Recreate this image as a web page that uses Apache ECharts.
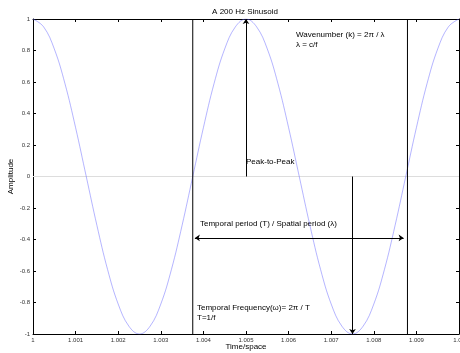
<!DOCTYPE html>
<html>
<head>
<meta charset="utf-8">
<script src="https://cdn.jsdelivr.net/npm/echarts@6/dist/echarts.min.js"></script>
<style>
  html, body { margin: 0; padding: 0; background: #fff; }
  #chart { width: 460px; height: 353px; }
</style>
</head>
<body>
<div id="chart"></div>
<script>
// every 0.00025 s
var timeVals = [1, 1.00025, 1.0005, 1.00075, 1.001, 1.00125, 1.0015, 1.00175, 1.002, 1.00225,
  1.0025, 1.00275, 1.003, 1.00325, 1.0035, 1.00375, 1.004, 1.00425, 1.0045, 1.00475,
  1.005, 1.00525, 1.0055, 1.00575, 1.006, 1.00625, 1.0065, 1.00675, 1.007, 1.00725,
  1.0075, 1.00775, 1.008, 1.00825, 1.0085, 1.00875, 1.009, 1.00925, 1.0095, 1.00975, 1.01];
var ampVals = [1, 0.95, 0.81, 0.59, 0.31, 0, -0.31, -0.59, -0.81, -0.95,
  -1, -0.95, -0.81, -0.59, -0.31, 0, 0.31, 0.59, 0.81, 0.95,
  1, 0.95, 0.81, 0.59, 0.31, 0, -0.31, -0.59, -0.81, -0.95,
  -1, -0.95, -0.81, -0.59, -0.31, 0, 0.31, 0.59, 0.81, 0.95, 1];

var xRange = [1, 1.01];
var yRange = [-1, 1];
var periodLines = [1.00375, 1.00879];
var periodArrow = { from: 1.0038, to: 1.0087, y: -0.39 };
var peakArrow = { x: 1.005, from: 0, to: 1 };
var troughArrow = { x: 1.0075, from: 0, to: -1 };

var font = '"Liberation Sans", Arial, sans-serif';
var ink = '#000';

var chart = echarts.init(document.getElementById('chart'), null, { renderer: 'canvas' });

function txt(s, x, y, extra) {
  var el = {
    type: 'text', x: x, y: y, silent: true,
    style: { text: s, fill: ink, font: '8px ' + font, align: 'left', verticalAlign: 'middle' }
  };
  if (extra) for (var k in extra) el.style[k] = extra[k];
  return el;
}

var axisBase = {
  type: 'value',
  axisLine: { show: true, onZero: false, lineStyle: { color: ink, width: 1 } },
  axisTick: { show: true, inside: true, length: 3, lineStyle: { color: ink } },
  splitLine: { show: false }
};

var sineData = timeVals.map(function(t, i) { return [t, ampVals[i]]; });

chart.setOption({
  animation: false,
  backgroundColor: '#fff',
  grid: { left: 33, right: 1, top: 19, bottom: 19, containLabel: false, outerBoundsMode: 'none' },
  xAxis: [
    Object.assign({}, axisBase, {
      min: xRange[0], max: xRange[1], interval: 0.001, position: 'bottom',
      name: 'Time/space', nameLocation: 'middle', nameGap: 9, nameMoveOverlap: false,
      nameTextStyle: { color: ink, fontFamily: font, fontSize: 8 },
      axisLabel: { color: '#333', fontFamily: font, fontSize: 6, margin: 3,
        formatter: function(v) { return String(+v.toFixed(3)); } }
    }),
    Object.assign({}, axisBase, {
      min: xRange[0], max: xRange[1], interval: 0.001, position: 'top',
      axisLabel: { show: false }
    })
  ],
  yAxis: [
    Object.assign({}, axisBase, {
      min: yRange[0], max: yRange[1], interval: 0.2, position: 'left',
      name: 'Amplitude', nameLocation: 'middle', nameGap: 18, nameMoveOverlap: false,
      nameTextStyle: { color: ink, fontFamily: font, fontSize: 8 },
      axisLabel: { color: '#333', fontFamily: font, fontSize: 6, margin: 3,
        formatter: function(v) { return String(+v.toFixed(1)); } }
    }),
    Object.assign({}, axisBase, {
      min: yRange[0], max: yRange[1], interval: 0.2, position: 'right',
      axisLabel: { show: false }
    })
  ],
  series: [
    {
      type: 'line',
      data: [[xRange[0], 0], [xRange[1], 0]],
      showSymbol: false, silent: true,
      lineStyle: { color: '#dddddd', width: 1 }
    },
    {
      type: 'line',
      data: sineData,
      smooth: 0.4,
      showSymbol: false, silent: true,
      lineStyle: { color: 'rgba(90,90,255,0.45)', width: 1 }
    },
    {
      type: 'line',
      data: [[periodLines[0], yRange[0]], [periodLines[0], yRange[1]]],
      showSymbol: false, silent: true,
      lineStyle: { color: ink, width: 1 }
    },
    {
      type: 'line',
      data: [[periodLines[1], yRange[0]], [periodLines[1], yRange[1]]],
      showSymbol: false, silent: true,
      lineStyle: { color: ink, width: 1 }
    },
    {
      type: 'line',
      data: [],
      silent: true,
      markLine: {
        silent: true,
        symbolSize: 5,
        label: { show: false },
        lineStyle: { color: ink, width: 1, type: 'solid' },
        data: [
          [{ coord: [peakArrow.x, peakArrow.from], symbol: 'none' },
           { coord: [peakArrow.x, peakArrow.to], symbol: 'arrow' }],
          [{ coord: [troughArrow.x, troughArrow.from], symbol: 'none' },
           { coord: [troughArrow.x, troughArrow.to], symbol: 'arrow' }],
          [{ coord: [periodArrow.from, periodArrow.y], symbol: 'arrow' },
           { coord: [periodArrow.to, periodArrow.y], symbol: 'arrow' }]
        ]
      }
    }
  ],
  graphic: [
    txt('A 200 Hz Sinusoid', 245, 12, { align: 'center' }),
    txt('Wavenumber (k) = 2π / λ', 296, 35),
    txt('λ = c/f', 296, 45),
    txt('Peak-to-Peak', 246, 162),
    txt('Temporal period (T) / Spatial period (λ)', 200, 224),
    txt('Temporal Frequency(ω)= 2π / T', 197, 308),
    txt('T=1/f', 197, 318)
  ]
});
</script>
</body>
</html>
